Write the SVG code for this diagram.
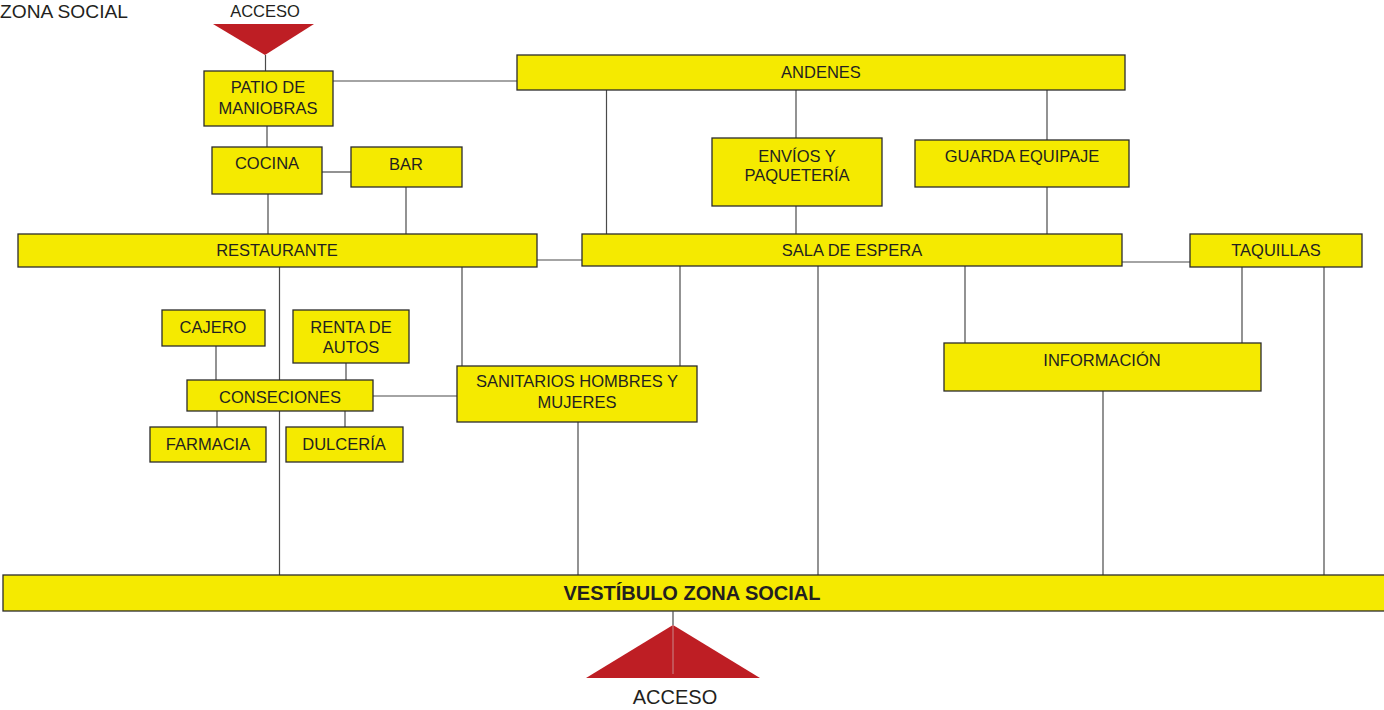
<svg xmlns="http://www.w3.org/2000/svg" width="1384" height="710" viewBox="0 0 1384 710">
  <style>
    .box { fill: #F5EA00; stroke: #2b2b2b; stroke-width: 1.3; }
    .lbl { font-family: "Liberation Sans", Arial, sans-serif; font-size: 16.5px; fill: #231F20; text-anchor: middle; }
    .big { font-family: "Liberation Sans", Arial, sans-serif; font-size: 20px; font-weight: bold; fill: #231F20; text-anchor: middle; }
    .conn line { stroke: #4a4a4a; stroke-width: 1.2; fill: none; }
    .tri { fill: #BE1E24; }
  </style>
  <rect width="1384" height="710" fill="#ffffff"/>

  <!-- title fragment -->
  <text x="0" y="18" style="font-family:'Liberation Sans', Arial, sans-serif; font-size:19.2px; fill:#231F20">ZONA SOCIAL</text>

  <!-- connectors (drawn under the boxes) -->
  <g id="connectors" class="conn">
    <line x1="265.5" y1="55" x2="265.5" y2="71"/>
    <line x1="333" y1="81" x2="517" y2="81"/>
    <line x1="267" y1="126" x2="267" y2="147"/>
    <line x1="322" y1="172" x2="351" y2="172"/>
    <line x1="268" y1="194" x2="268" y2="234"/>
    <line x1="406" y1="187" x2="406" y2="234"/>
    <line x1="606.5" y1="90" x2="606.5" y2="234"/>
    <line x1="796" y1="90" x2="796" y2="138"/>
    <line x1="1047" y1="90" x2="1047" y2="140"/>
    <line x1="796" y1="206" x2="796" y2="234"/>
    <line x1="1047" y1="187" x2="1047" y2="234"/>
    <line x1="537" y1="260" x2="582" y2="260"/>
    <line x1="1122" y1="262" x2="1190" y2="262"/>
    <line x1="279.5" y1="267" x2="279.5" y2="575"/>
    <line x1="462" y1="267" x2="462" y2="366"/>
    <line x1="680" y1="266" x2="680" y2="366"/>
    <line x1="818" y1="266" x2="818" y2="575"/>
    <line x1="965" y1="266" x2="965" y2="343"/>
    <line x1="1242" y1="267" x2="1242" y2="343"/>
    <line x1="1324" y1="267" x2="1324" y2="575"/>
    <line x1="216" y1="346" x2="216" y2="380"/>
    <line x1="346" y1="363" x2="346" y2="380"/>
    <line x1="373" y1="396" x2="457" y2="396"/>
    <line x1="217" y1="411" x2="217" y2="427"/>
    <line x1="345" y1="411" x2="345" y2="427"/>
    <line x1="578" y1="422" x2="578" y2="575"/>
    <line x1="1103" y1="391" x2="1103" y2="575"/>
  </g>

  <!-- upper access -->
  <g id="acceso-superior">
    <polygon class="tri" points="213,24 314,24 265,55"/>
    <text class="lbl" x="265" y="17">ACCESO</text>
  </g>

  <g id="patio-maniobras">
    <rect class="box" x="204" y="71" width="129" height="55"/>
    <text class="lbl" x="268" y="93">PATIO DE</text>
    <text class="lbl" x="268" y="114">MANIOBRAS</text>
  </g>

  <g id="andenes">
    <rect class="box" x="517" y="55" width="608" height="35"/>
    <text class="lbl" x="821" y="78">ANDENES</text>
  </g>

  <g id="cocina">
    <rect class="box" x="212" y="147" width="110" height="47"/>
    <text class="lbl" x="267" y="169">COCINA</text>
  </g>

  <g id="bar">
    <rect class="box" x="351" y="147" width="111" height="40"/>
    <text class="lbl" x="406" y="170">BAR</text>
  </g>

  <g id="envios">
    <rect class="box" x="712" y="138" width="170" height="68"/>
    <text class="lbl" x="797" y="162">ENVÍOS Y</text>
    <text class="lbl" x="797" y="181">PAQUETERÍA</text>
  </g>

  <g id="guarda-equipaje">
    <rect class="box" x="915" y="140" width="214" height="47"/>
    <text class="lbl" x="1022" y="162">GUARDA EQUIPAJE</text>
  </g>

  <g id="restaurante">
    <rect class="box" x="18" y="234" width="519" height="33"/>
    <text class="lbl" x="277" y="256">RESTAURANTE</text>
  </g>

  <g id="sala-espera">
    <rect class="box" x="582" y="234" width="540" height="32"/>
    <text class="lbl" x="852" y="256">SALA DE ESPERA</text>
  </g>

  <g id="taquillas">
    <rect class="box" x="1190" y="234" width="172" height="33"/>
    <text class="lbl" x="1276" y="256">TAQUILLAS</text>
  </g>

  <g id="cajero">
    <rect class="box" x="162" y="310" width="103" height="36"/>
    <text class="lbl" x="213" y="333">CAJERO</text>
  </g>

  <g id="renta-autos">
    <rect class="box" x="293" y="310" width="116" height="53"/>
    <text class="lbl" x="351" y="333">RENTA DE</text>
    <text class="lbl" x="351" y="353">AUTOS</text>
  </g>

  <g id="conseciones">
    <rect class="box" x="187" y="380" width="186" height="31"/>
    <text class="lbl" x="280" y="403">CONSECIONES</text>
  </g>

  <g id="sanitarios">
    <rect class="box" x="457" y="366" width="240" height="56"/>
    <text class="lbl" x="577" y="387">SANITARIOS HOMBRES Y</text>
    <text class="lbl" x="577" y="408">MUJERES</text>
  </g>

  <g id="farmacia">
    <rect class="box" x="150" y="427" width="116" height="35"/>
    <text class="lbl" x="208" y="450">FARMACIA</text>
  </g>

  <g id="dulceria">
    <rect class="box" x="286" y="427" width="117" height="35"/>
    <text class="lbl" x="344" y="450">DULCERÍA</text>
  </g>

  <g id="informacion">
    <rect class="box" x="944" y="343" width="317" height="48"/>
    <text class="lbl" x="1102" y="366">INFORMACIÓN</text>
  </g>

  <g id="vestibulo">
    <rect class="box" x="3" y="575" width="1390" height="36"/>
    <text class="big" x="692" y="600">VESTÍBULO ZONA SOCIAL</text>
  </g>

  <!-- lower access -->
  <g id="acceso-inferior">
    <polygon class="tri" points="673,625 760,678 586,678"/>
    <line x1="673" y1="611" x2="673" y2="625" stroke="#4a4a4a" stroke-width="1.2"/>
    <line x1="673" y1="625" x2="673" y2="674" stroke="#c9878a" stroke-width="1"/>
    <text class="lbl" x="675" y="704" style="font-size:20px">ACCESO</text>
  </g>
</svg>
